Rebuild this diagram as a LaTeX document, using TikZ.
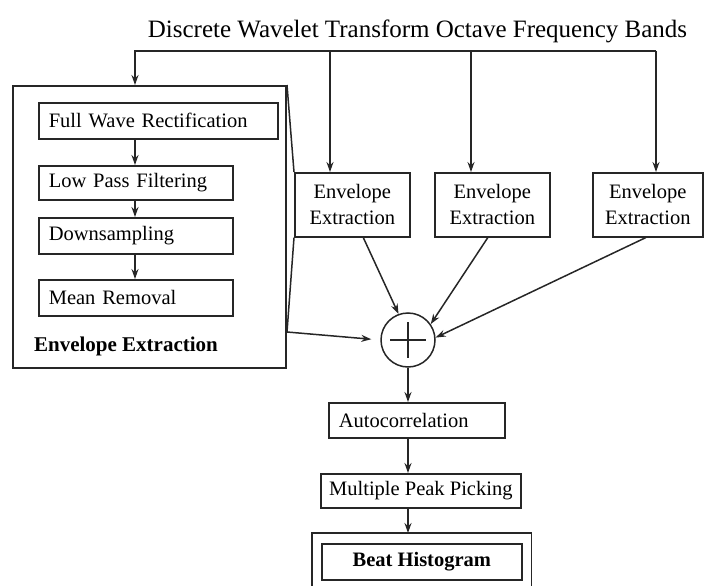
\documentclass[tikz,border=0pt]{standalone}
\usepackage{fontspec}
\setmainfont{Liberation Serif}
\usetikzlibrary{arrows.meta}
\begin{document}
\begin{tikzpicture}[x=1pt,y=-1pt,
  line width=1.5pt, color=black!85,
  arr/.style={-{Stealth[length=10pt,width=7pt]}},
  box/.style={draw, line width=1.6pt, inner sep=0pt, text=black, font=\fontsize{20.5}{26}\selectfont},
  lbox/.style={box, anchor=north west, align=left, inner xsep=10pt},
  cbox/.style={box, anchor=north west, align=center},
  ]
\useasboundingbox (0,0) rectangle (704,586);

\node[anchor=base, text=black, font=\fontsize{25}{29}\selectfont] (title) at (417.5,38) {Discrete Wavelet Transform Octave Frequency Bands};

% big envelope extraction box
\node[draw, line width=2pt, anchor=north west, minimum width=273pt, minimum height=282pt, inner sep=0pt] (big) at (12,85) {};
\node[lbox, text width=219pt, minimum height=36pt] (fwr) at (38,102) {Full Wave Rectification};
\node[lbox, text width=174pt, minimum height=34pt] (lpf) at (38,165) {Low Pass Filtering};
\node[lbox, text width=174pt, minimum height=36pt] (ds) at (38,217) {Downsampling};
\node[lbox, text width=174pt, minimum height=36pt] (mr) at (38,279) {Mean Removal};
\node[anchor=base west, text=black, font=\bfseries\fontsize{21}{25}\selectfont] (lbl) at (30,351) {Envelope Extraction};

% envelope boxes
\node[cbox, minimum width=115pt, minimum height=64pt] (e1) at (294,172) {Envelope\\Extraction};
\node[cbox, minimum width=115pt, minimum height=64pt] (e2) at (434,172) {Envelope\\Extraction};
\node[cbox, minimum width=110pt, minimum height=64pt] (e3) at (592,172) {Envelope\\Extraction};

% sum
\node[draw, circle, minimum size=54pt, inner sep=0pt, line width=1.5pt] (sum) at (408,340) {};
\draw (sum.center) ++(-18,0) -- ++(36,0);
\draw (sum.center) ++(0,-18) -- ++(0,36);

% lower chain
\node[lbox, text width=156pt, minimum height=35pt] (auto) at (328,402) {Autocorrelation};
\node[cbox, minimum width=200pt, minimum height=34pt] (mpp) at (320,473) {Multiple Peak Picking};
\node[cbox, minimum width=200pt, minimum height=36pt, font=\bfseries\fontsize{20.5}{26}\selectfont] (beat) at (321,543) {Beat Histogram};
\draw[line width=1.6pt] ([shift={(-9,8)}]beat.south west) |- ([shift={(9,-10)}]beat.north east) -- ([shift={(9,8)}]beat.south east);

% top distribution
\coordinate (tl) at (135,51);
\coordinate (tr) at (656,51);
\coordinate (b1) at (330,51);
\coordinate (b2) at (471,51);
\draw[arr] (tr) -- (tl) -- (tl |- big.north);
\draw[arr] (tr) -- (tr |- e3.north);
\draw[arr] (b1) -- (b1 |- e1.north);
\draw[arr] (b2) -- (b2 |- e2.north);

% inner chain
\draw[arr] (fwr.south -| tl) -- (lpf.north -| tl);
\draw[arr] (lpf.south -| tl) -- (ds.north -| tl);
\draw[arr] (ds.south -| tl) -- (mr.north -| tl);

% zoom lines
\coordinate (by) at (0,332);
\draw (big.north east) -- (e1.north west);
\draw (e1.south west) -- (big.east |- by);
\draw[arr, shorten >=9pt] (big.east |- by) -- (sum.west);

% into sum
\draw[arr] ([xshift=11pt]e1.south) -- (sum.110);
\draw[arr] ([xshift=-4.5pt]e2.south) -- (sum.35);
\draw[arr] ([xshift=-2pt]e3.south) -- (sum.5);

% down chain
\draw[arr] (sum.south) -- (sum.south |- auto.north);
\draw[arr] (auto.south -| sum.south) -- (mpp.north -| sum.south);
\draw[arr] (mpp.south -| sum.south) -- ([shift={(0,-10)}]beat.north -| sum.south);
\end{tikzpicture}
\end{document}
